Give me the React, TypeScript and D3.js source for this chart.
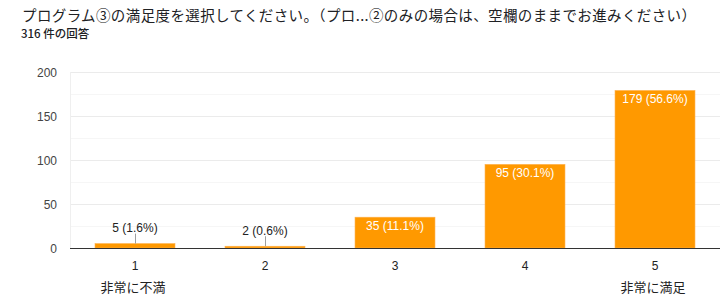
import React from "react";
import * as d3 from "d3";

const title = "プログラム③の満足度を選択してください。（プロ...②のみの場合は、空欄のままでお進みください）";
const subtitle = "316 件の回答";
const categories = ["1", "2", "3", "4", "5"];
const values = [5, 2, 35, 95, 179];
const percents = ["1.6%", "0.6%", "11.1%", "30.1%", "56.6%"];
const endLabels = ["非常に不満", "", "", "", "非常に満足"];
const yTicks = [0, 50, 100, 150, 200];
const yMinorTicks = [25, 75, 125, 175];

const W = 720;
const H = 302;
const margin = { left: 70, right: 0 };
const NUMFONT = "'Liberation Sans', Arial, sans-serif";
const JPFONT = "'Noto Sans CJK JP', 'Liberation Sans', sans-serif";
const ORANGE = "#ff9900";

export default function App() {
  const x = d3
    .scaleBand<string>()
    .domain(categories)
    .range([margin.left, W - margin.right])
    .paddingInner(0.385)
    .paddingOuter(0.1925);
  const y = d3.scaleLinear().domain([0, 200]).range([248, 72]);
  const bw = x.bandwidth();

  return (
    <svg
      width={W}
      height={H}
      style={{ position: "absolute", left: 0, top: 0, background: "#fff" }}
      fontFamily={NUMFONT}
    >
      <rect x={0} y={0} width={W} height={H} fill="#fff" />
      <text
        x={22}
        y={21}
        fontSize={14.5}
        fill="#202124"
        fontFamily={JPFONT}
        textLength={674}
        lengthAdjust="spacing"
      >
        {title}
      </text>
      <text x={21} y={38} fontSize={11.5} fill="#202124" fontWeight={500} fontFamily={JPFONT}>
        {subtitle}
      </text>

      {yMinorTicks.map((t) => (
        <line key={"m" + t} x1={margin.left} x2={W} y1={y(t) + 0.5} y2={y(t) + 0.5} stroke="#f6f6f6" />
      ))}
      {yTicks.filter((t) => t > 0).map((t) => (
        <line key={"g" + t} x1={margin.left} x2={W} y1={y(t) + 0.5} y2={y(t) + 0.5} stroke="#ebebeb" />
      ))}
      <line x1={margin.left + 0.5} x2={margin.left + 0.5} y1={y(200)} y2={y(0)} stroke="#efefef" />

      {yTicks.map((t) => (
        <text key={"yt" + t} x={57} y={y(t) + 4.5} fontSize={12} fill="#444" textAnchor="end">
          {t}
        </text>
      ))}

      {categories.map((c, i) => {
        const v = values[i];
        const bx = x(c)!;
        const cx = bx + bw / 2;
        const top = y(v);
        const label = `${v} (${percents[i]})`;
        const inside = y(0) - top > 20;
        return (
          <g key={c}>
            <rect
              x={bx}
              y={top}
              width={bw}
              height={y(0) - top}
              fill={ORANGE}
              stroke="#ffb04a"
              strokeWidth={0.6}
            />
            {inside ? (
              <text x={cx} y={top + 13} fontSize={12} fill="#fff" textAnchor="middle">
                {label}
              </text>
            ) : (
              <g>
                <line x1={cx + 0.5} x2={cx + 0.5} y1={top} y2={top - 10} stroke="#9e9e9e" />
                <text x={cx} y={top - 11.5} fontSize={12} fill="#222" textAnchor="middle">
                  {label}
                </text>
              </g>
            )}
            <text x={cx} y={270} fontSize={12} fill="#222" textAnchor="middle">
              {c}
            </text>
            {endLabels[i] && (
              <text x={cx - 2} y={292} fontSize={13} fill="#222" textAnchor="middle" fontFamily={JPFONT}>
                {endLabels[i]}
              </text>
            )}
          </g>
        );
      })}

      <line x1={margin.left} x2={W} y1={y(0) + 0.5} y2={y(0) + 0.5} stroke="#333" strokeWidth={1} />
    </svg>
  );
}
